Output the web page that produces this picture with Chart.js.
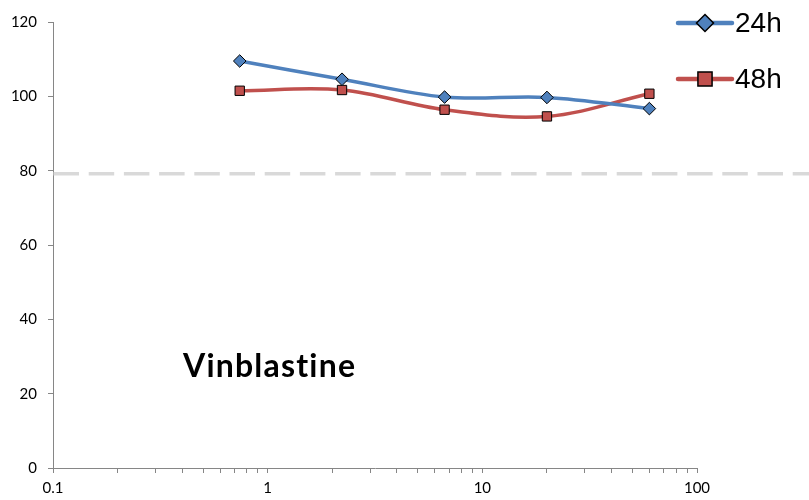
<!DOCTYPE html>
<html><head><meta charset="utf-8">
<script src="https://cdn.jsdelivr.net/npm/chart.js@4/dist/chart.umd.min.js"></script>
<style>html,body{margin:0;padding:0;background:#fff}#wrap{width:809px;height:500px;position:relative}</style>
</head><body><div id="wrap"><canvas id="c" width="809" height="500"></canvas></div>
<script>
const doses = [0.741, 2.22, 6.67, 20, 60];
const viability24h = [109.5, 104.6, 99.8, 99.7, 96.7];
const viability48h = [101.5, 101.7, 96.4, 94.6, 100.7];
const seriesLabels = ['24h', '48h'];
const yTickValues = [0, 20, 40, 60, 80, 100, 120];
const xLabelValues = [0.1, 1, 10, 100];
const thresholdValue = 79.2;
const chartTitle = 'Vinblastine';

const BLUE = '#4F81BD', RED = '#C0504D', AXIS = '#868686';

function pts(xs, ys) { return xs.map((x, i) => ({ x: x, y: ys[i] })); }

const thresholdPlugin = {
  id: 'threshold',
  beforeDatasetsDraw(chart) {
    const { ctx, chartArea, scales } = chart;
    const y = scales.y.getPixelForValue(thresholdValue);
    ctx.save();
    ctx.strokeStyle = '#D9D9D9';
    ctx.lineWidth = 3.5;
    ctx.setLineDash([25.5, 9.7]);
    ctx.beginPath();
    ctx.moveTo(chartArea.left + 0.5, y);
    ctx.lineTo(chart.width, y);
    ctx.stroke();
    ctx.restore();
  }
};

const overlayPlugin = {
  id: 'overlay',
  afterDraw(chart) {
    const ctx = chart.ctx;
    ctx.save();
    // title
    ctx.fillStyle = '#000';
    ctx.font = 'bold 32px Lato, "Open Sans", sans-serif';
    if ('letterSpacing' in ctx) ctx.letterSpacing = '1.2px';
    ctx.textAlign = 'left';
    ctx.textBaseline = 'alphabetic';
    ctx.fillText(chartTitle, 183, 377);
    if ('letterSpacing' in ctx) ctx.letterSpacing = '0px';
    // legend
    const rows = [23, 79];
    chart.data.datasets.forEach((ds, i) => {
      const y = rows[i];
      ctx.strokeStyle = ds.borderColor;
      ctx.lineWidth = 4.5;
      ctx.lineCap = 'round';
      ctx.beginPath();
      ctx.moveTo(678, y);
      ctx.lineTo(732, y);
      ctx.stroke();
      ctx.fillStyle = ds.backgroundColor;
      ctx.strokeStyle = '#000';
      ctx.lineWidth = 1.5;
      Chart.helpers.drawPoint(ctx, { pointStyle: ds.pointStyle, radius: ds.pointStyle === 'rect' ? 10 : 8.5, borderWidth: 1.5 }, 705, y);
      ctx.fillStyle = '#000';
      ctx.font = '28px "Liberation Sans", Arial, sans-serif';
      ctx.textBaseline = 'middle';
      ctx.fillText(ds.label, 735, y + 1);
    });
    ctx.restore();
  }
};

const xTicks = [];
[0.1, 1, 10].forEach(d => { for (let m = 1; m <= 9; m++) xTicks.push(parseFloat((m * d).toPrecision(3))); });
xTicks.push(100);

new Chart(document.getElementById('c'), {
  type: 'line',
  data: {
    datasets: [
      { label: seriesLabels[0], data: pts(doses, viability24h), borderColor: BLUE, backgroundColor: BLUE,
        borderWidth: 3.5, pointStyle: 'rectRot', pointRadius: 6.3, pointBorderColor: '#000', pointBorderWidth: 1,
        pointBackgroundColor: BLUE, tension: 0.35 },
      { label: seriesLabels[1], data: pts(doses, viability48h), borderColor: RED, backgroundColor: RED,
        borderWidth: 3.5, pointStyle: 'rect', pointRadius: 6.6, pointBorderColor: '#000', pointBorderWidth: 1,
        pointBackgroundColor: RED, tension: 0.35 }
    ]
  },
  options: {
    responsive: false, animation: false, devicePixelRatio: 1,
    layout: { padding: { top: 22, right: 112, bottom: 0, left: 0 } },
    plugins: { legend: { display: false }, tooltip: { enabled: false } },
    scales: {
      x: {
        type: 'logarithmic', min: 0.1, max: 100,
        afterBuildTicks: (s) => { s.ticks = xTicks.map(v => ({ value: v })); },
        afterFit: (s) => { s.height = 32; },
        ticks: { autoSkip: false, maxRotation: 0, padding: 6, color: '#000',
          font: { family: 'Lato, "Open Sans", sans-serif', size: 15 },
          callback: (v) => xLabelValues.includes(v) ? String(v) : '' },
        grid: { drawOnChartArea: false, tickLength: 5, color: AXIS },
        border: { color: AXIS, width: 1 }
      },
      y: {
        min: 0, max: 120,
        afterBuildTicks: (s) => { s.ticks = yTickValues.map(v => ({ value: v })); },
        afterFit: (s) => { s.width = 53; },
        ticks: { padding: 11, color: '#000', font: { family: 'Lato, "Open Sans", sans-serif', size: 15 } },
        grid: { drawOnChartArea: false, tickLength: 5, color: AXIS },
        border: { color: AXIS, width: 1 }
      }
    }
  },
  plugins: [thresholdPlugin, overlayPlugin]
});
</script></body></html>
